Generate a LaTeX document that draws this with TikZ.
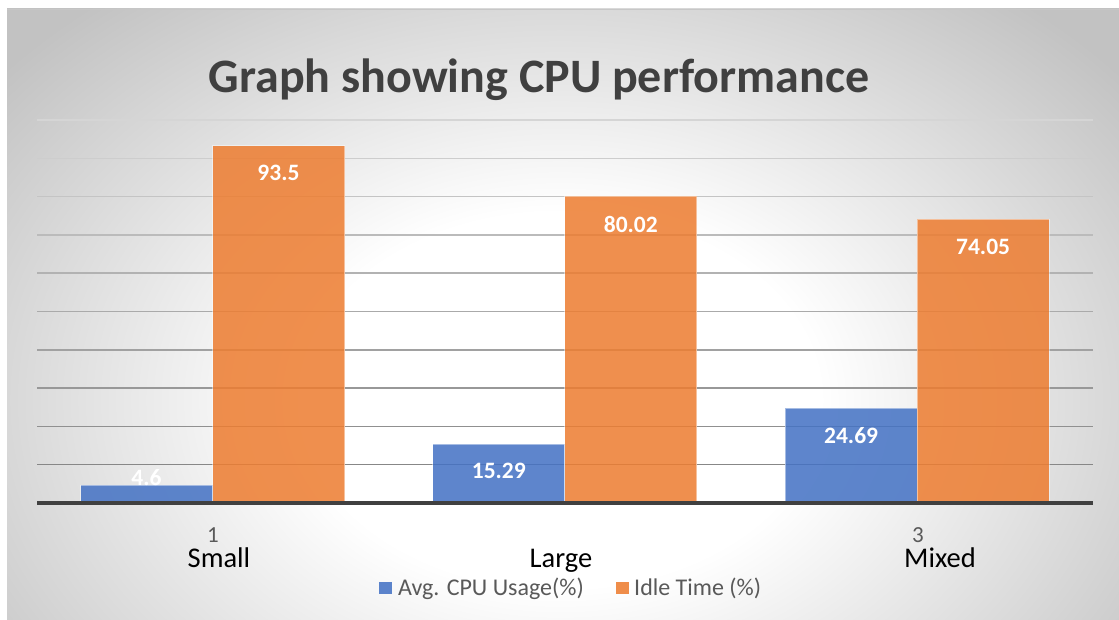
\documentclass[tikz,border=0pt]{standalone}
\usepackage{fontspec}
\setmainfont{Carlito}
\definecolor{bgedge}{HTML}{C2C2C2}
\definecolor{titlegray}{HTML}{404040}
\definecolor{seriesA}{HTML}{4472C4}
\definecolor{seriesB}{HTML}{ED7D31}
\definecolor{axisgray}{HTML}{404040}
\definecolor{legendgray}{HTML}{595959}
% soft glow behind the chart: white core fading to grey at the edges
\pgfdeclareradialshading{chartglow}{\pgfpoint{0bp}{0bp}}{color(0bp)=(white); color(9bp)=(white); color(25bp)=(bgedge); color(50bp)=(bgedge)}
\begin{document}
\begin{tikzpicture}[x=1pt,y=-1pt,
  gridline/.style={line width=1.5pt},
  bluebar/.style={fill=seriesA,fill opacity=0.86,draw=white,draw opacity=0.45,line width=1pt},
  orangebar/.style={fill=seriesB,fill opacity=0.86,draw=white,draw opacity=0.45,line width=1pt},
  vallabel/.style={text=white,font=\bfseries\fontsize{23.5}{28}\selectfont,inner sep=0pt},
  catnum/.style={text=legendgray,font=\fontsize{23}{27}\selectfont,inner sep=0pt,anchor=base},
  catname/.style={text=black,font=\fontsize{28.5}{34}\selectfont,inner sep=0pt,anchor=base},
  legtext/.style={text=legendgray,font=\fontsize{24}{28}\selectfont,inner sep=0pt,anchor=base west},
]
\useasboundingbox (0,0) rectangle (1119,620);
\fill[white] (0,0) rectangle (1119,620);
% chart area background
\begin{scope}
  \clip (7,9) rectangle (1119,620);
  \shade[shading=chartglow] (-160,-120) rectangle (1280,920);
  \draw[black!22,line width=1.5pt] (7,9.5) -- (1119,9.5);
\end{scope}

% title
\node[text=titlegray,font=\bfseries\fontsize{48}{56}\selectfont,inner sep=0pt,anchor=base] (title) at (539,93) {Graph showing CPU performance};

% horizontal gridlines, every 10 units (3.83 px per unit)
\foreach \k in {1,...,10}{
  \pgfmathsetmacro\gshade{47-3.4*(\k-1)}
  \draw[gridline,draw=black!\gshade] (37,{503-38.3*\k}) -- (1093,{503-38.3*\k});
}

% bars: Avg. CPU Usage (blue) and Idle Time (orange)
\path[bluebar]   (80.5,503) rectangle (212.5,485.4);
\path[orangebar] (212.5,503) rectangle (344.5,145.9);
\path[bluebar]   (432.8,503) rectangle (564.8,444.4);
\path[orangebar] (564.8,503) rectangle (696.8,196.5);
\path[bluebar]   (785.1,503) rectangle (917.1,408.4);
\path[orangebar] (917.1,503) rectangle (1049.1,219.4);

% category axis
\draw[axisgray,line width=3.5pt] (37,503) -- (1093,503);

% data labels
\node[vallabel] (vA1) at (146.5,478) {4.6};
\node[vallabel] (vB1) at (278.5,173) {93.5};
\node[vallabel] (vA2) at (498.8,471) {15.29};
\node[vallabel] (vB2) at (630.8,224) {80.02};
\node[vallabel] (vA3) at (851.1,436) {24.69};
\node[vallabel] (vB3) at (983.1,247) {74.05};

% category labels
\node[catnum]  (n1) at (213,542) {1};
\node[catname] (c1) at (219,567) {Small};
\node[catname] (c2) at (561,567) {Large};
\node[catnum]  (n3) at (918,542) {3};
\node[catname] (c3) at (940,567) {Mixed};

% legend
\fill[seriesA!88!white] (379,582) rectangle (392,594);
\node[legtext] (lA) at (398,595) {Avg. CPU Usage(\%)};
\fill[seriesB!88!white] (616,582) rectangle (629,594);
\node[legtext] (lB) at (634,595) {Idle Time (\%)};
\end{tikzpicture}
\end{document}
